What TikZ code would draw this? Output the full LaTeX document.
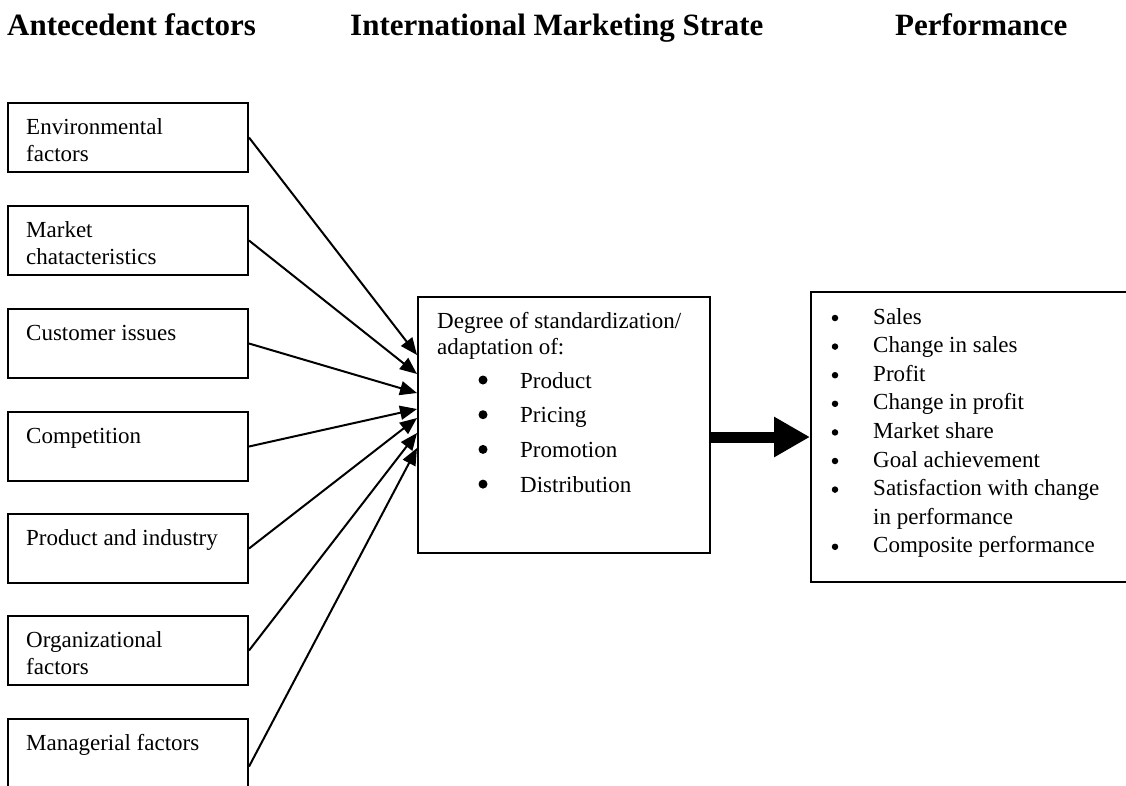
\documentclass[tikz,border=0pt]{standalone}
\usepackage{fontspec}
\setmainfont{Liberation Serif}
\usetikzlibrary{arrows.meta,calc}
\begin{document}
\begin{tikzpicture}[x=1pt,y=-1pt,
  every node/.style={font=\fontsize{23}{27.5}\selectfont, inner sep=0pt},
  leftbox/.style={draw, line width=2pt, minimum width=240pt, minimum height=69pt},
  frame/.style={draw, line width=2pt},
  title/.style={font=\fontsize{31}{36}\selectfont\bfseries, anchor=base west},
  boxtext/.style={anchor=base west},
  link/.style={line width=2pt, -{Triangle[length=17pt,width=14pt]}},
  bigdot/.style={circle, fill, minimum size=9pt},
  smalldot/.style={circle, fill, minimum size=6.5pt},
]
\useasboundingbox (0,0) rectangle (1126,785);

% titles
\node[title] (t1) at (7,35) {Antecedent factors};
\node[title] (t2) at (350,35) {International Marketing Strate};
\node[title] (t3) at (895,35) {Performance};

% left boxes
\node[leftbox] (b1) at (128,137.5) {};
\node[leftbox] (b2) at (128,240.5) {};
\node[leftbox] (b3) at (128,343.5) {};
\node[leftbox] (b4) at (128,446.5) {};
\node[leftbox] (b5) at (128,548.5) {};
\node[leftbox] (b6) at (128,650.5) {};
\node[leftbox] (b7) at (128,753.5) {};

\node[boxtext] (l1) at ($(b1.north west)+(19,32)$) {\begin{tabular}[t]{@{}l@{}}Environmental\\factors\end{tabular}};
\node[boxtext] (l2) at ($(b2.north west)+(19,32)$) {\begin{tabular}[t]{@{}l@{}}Market\\chatacteristics\end{tabular}};
\node[boxtext] (l3) at ($(b3.north west)+(19,32)$) {Customer issues};
\node[boxtext] (l4) at ($(b4.north west)+(19,32)$) {Competition};
\node[boxtext] (l5) at ($(b5.north west)+(19,32)$) {Product and industry};
\node[boxtext] (l6) at ($(b6.north west)+(19,32)$) {\begin{tabular}[t]{@{}l@{}}Organizational\\factors\end{tabular}};
\node[boxtext] (l7) at ($(b7.north west)+(19,32)$) {Managerial factors};

% middle box
\node[frame, minimum width=292pt, minimum height=256pt] (mid) at (564,425) {};
\node[boxtext] (m1) at (437,328) {Degree of standardization/};
\node[boxtext] (m2) at (437,354) {adaptation of:};
\foreach \t [count=\i] in {Product,Pricing,Promotion,Distribution} {
  \node[bigdot] (md\i) at (483,{388+34.7*(\i-1)-8}) {};
  \node[boxtext] (mt\i) at (520,{388+34.7*(\i-1)}) {\t};
}

% performance box
\node[frame, minimum width=319pt, minimum height=290pt] (perf) at (970.5,437) {};
\foreach \t/\k [count=\i] in {Sales/0,Change in sales/1,Profit/2,Change in profit/3,Market share/4,Goal achievement/5,Satisfaction with change/6,Composite performance/8} {
  \node[smalldot] (pd\i) at (835,{324+28.6*\k-6}) {};
  \node[boxtext] (pt\i) at (873,{324+28.6*\k}) {\t};
}
\node[boxtext] (pt9) at (873,{324+28.6*7}) {in performance};

% connectors
\draw[link] (b1.east) -- ([yshift=70pt]mid.west);
\draw[link] (b2.east) -- ([yshift=51pt]mid.west);
\draw[link] (b3.east) -- ([yshift=32pt]mid.west);
\draw[link] (b4.east) -- ([yshift=16pt]mid.west);
\draw[link] (b5.east) -- ([yshift=7pt]mid.west);
\draw[link] (b6.east) -- ([yshift=-8pt]mid.west);
\draw[link] ([yshift=-13pt]b7.east) -- ([yshift=-23pt]mid.west);

% thick arrow
\draw[line width=11pt, -{Triangle[length=36pt,width=38pt]}] (mid.east |- perf.west) -- (perf.west);
\end{tikzpicture}
\end{document}
